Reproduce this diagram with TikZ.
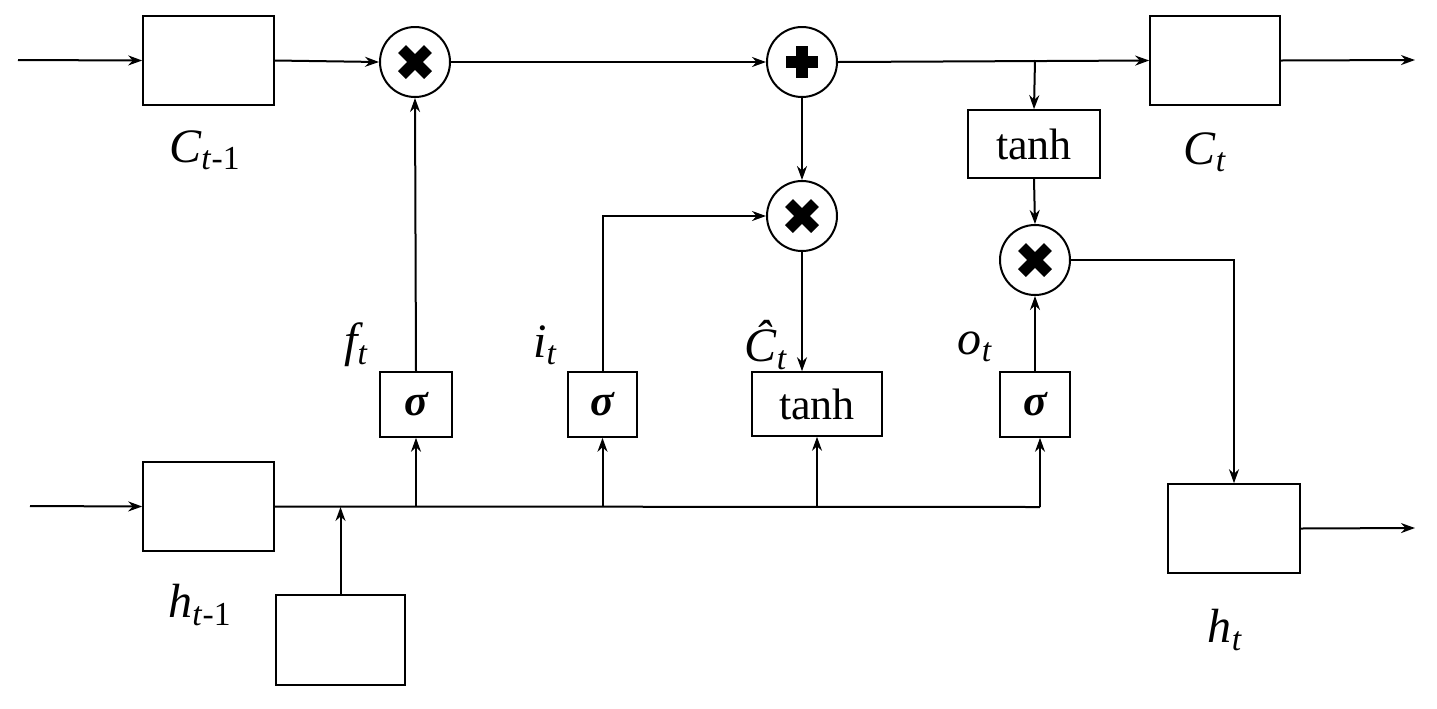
\documentclass[tikz,border=0pt]{standalone}
\usepackage{fontspec}
\setmainfont{Liberation Serif}
\usetikzlibrary{arrows.meta}
\begin{document}
\begin{tikzpicture}[x=0.5pt,y=-0.5pt,
  ln/.style={line width=1pt},
  ar/.style={ln,-{Stealth[length=7pt,width=5pt]}},
  bx/.style={draw,line width=0.8pt,inner sep=0pt,minimum width=#1},
  op/.style={draw,circle,line width=1pt,minimum size=35pt,inner sep=0pt},
  lb/.style={font=\fontsize{24}{26}\selectfont\itshape},
  tx/.style={font=\fontsize{22}{24}\selectfont},
  sg/.style={font=\fontsize{22}{24}\selectfont\bfseries\itshape}]
\useasboundingbox (0,0) rectangle (1437,708);
% boxes
\node[bx=65.5pt,minimum height=44.5pt] (c0) at (208.5,60.5) {};
\node[bx=65pt,minimum height=44.5pt] (c1) at (1215,60.5) {};
\node[bx=65.5pt,minimum height=44.5pt] (h0) at (208.5,506.5) {};
\node[bx=66pt,minimum height=44.5pt] (h1) at (1234,528.5) {};
\node[bx=64.5pt,minimum height=45pt] (x0) at (340.5,640) {};
\node[bx=66pt,minimum height=34pt,tx] (tc) at (1034,144) {tanh};
\node[bx=65pt,minimum height=32pt,tx] (tg) at (817,404) {tanh};
\node[bx=36pt,minimum height=32.5pt,sg] (sf) at (416,404.5) {σ};
\node[bx=34.5pt,minimum height=32.5pt,sg] (si) at (602.5,404.5) {σ};
\node[bx=35pt,minimum height=32.5pt,sg] (so) at (1035,404.5) {σ};
% operators
\node[op] (mf) at (415,62) {};
\node[op] (pl) at (802,62) {};
\node[op] (mi) at (802,216) {};
\node[op] (mo) at (1035,260) {};
\foreach \n in {mf,mi,mo}{
  \draw[line width=5.5pt] (\n.center)+(-13,-13) -- +(13,13);
  \draw[line width=5.5pt] (\n.center)+(-13,13) -- +(13,-13);}
\draw[line width=6pt] (pl.center)+(-16,0) -- +(16,0);
\draw[line width=6pt] (pl.center)+(0,-16) -- +(0,16);
% top line
\coordinate (tl) at (18,60);
\coordinate (tr) at (1415,60);
\draw[ar] (tl) -- (c0.west);
\draw[ar] (c0.east) -- (mf.west);
\draw[ar] (mf.east) -- (pl.west);
\draw[ar] (pl.east) -- (c1.west);
\draw[ar] (c1.east) -- (tr);
\coordinate (tj) at (1035,60);
\draw[ar] (tj) -- (tc.north);
\draw[ar] (tc.south) -- (mo.north);
\draw[ar] (pl.south) -- (mi.north);
\draw[ar] (mi.south) -- (mi.south |- tg.north);
\draw[ar] (si.north) |- (mi.west);
\draw[ar] (sf.north) -- (mf.south);
\draw[ar] (so.north) -- (mo.south);
\draw[ar] (mo.east) -| (h1.north);
\coordinate (hr) at (1415,528);
\draw[ar] (h1.east) -- (hr);
% bottom line
\coordinate (bl) at (30,506);
\coordinate (be) at (1040,507);
\draw[ar] (bl) -- (h0.west);
\draw[ln] (h0.east) -- (be);
\draw[ar] (x0.north) -- (x0.north |- be);
\draw[ar] (sf.south |- be) -- (sf.south);
\draw[ar] (si.south |- be) -- (si.south);
\draw[ar] (tg.south |- be) -- (tg.south);
\draw[ar] (be) -- (be |- so.south);
% labels
\node[lb] (l1) at (205,150) {C\textsubscript{\itshape t}\textsubscript{\upshape -1}};
\node[lb] (l2) at (1205,152) {C\textsubscript{\itshape t}};
\node[lb] (l3) at (356,345) {f\textsubscript{\itshape t}};
\node[lb] (l4) at (545,345) {i\textsubscript{\itshape t}};
\node[lb] (l5) at (766,345) {Ĉ\textsubscript{\itshape t}};
\node[lb] (l6) at (975,347) {o\textsubscript{\itshape t}};
\node[lb] (l7) at (200,605) {h\textsubscript{\itshape t}\textsubscript{\upshape -1}};
\node[lb] (l8) at (1225,630) {h\textsubscript{\itshape t}};
\end{tikzpicture}
\end{document}
